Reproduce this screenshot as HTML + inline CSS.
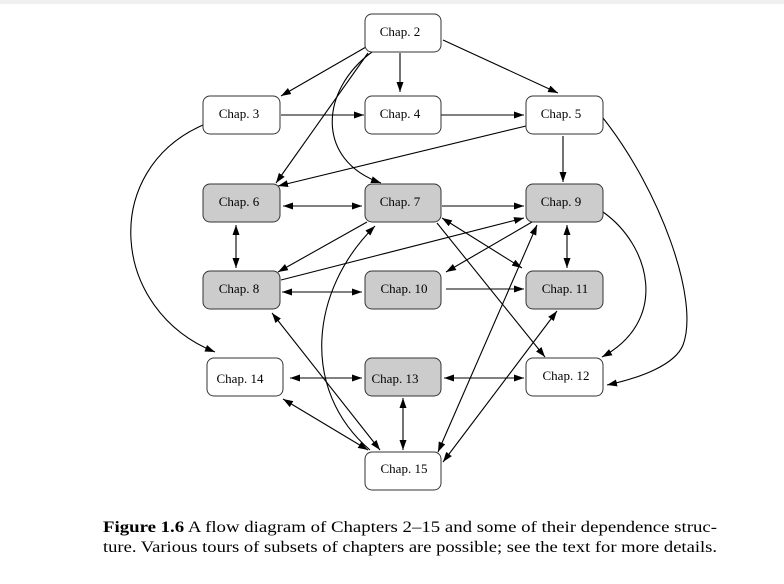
<!DOCTYPE html>
<html><head><style>
html,body{margin:0;padding:0;background:#fff;width:784px;height:584px;overflow:hidden}
</style></head><body>
<svg width="784" height="584" viewBox="0 0 784 584" xmlns="http://www.w3.org/2000/svg" font-family="Liberation Serif, serif">
<defs>
<marker id="a" viewBox="0 0 10 10" refX="10" refY="5" markerWidth="10" markerHeight="10" markerUnits="userSpaceOnUse" orient="auto-start-reverse"><path d="M0,1.5 L10,5 L0,8.5 z" fill="#000"/></marker>
</defs>
<rect x="0" y="0" width="784" height="4" fill="#f0f0f0"/>
<g stroke="#000" stroke-width="1.1" fill="none">
<line x1="366" y1="47" x2="281" y2="96" marker-end="url(#a)"/>
<line x1="400" y1="53" x2="400" y2="92" marker-end="url(#a)"/>
<line x1="443" y1="40" x2="558" y2="93" marker-end="url(#a)"/>
<line x1="368" y1="53" x2="276" y2="183" marker-end="url(#a)"/>
<path d="M372,52 C320,90 315,160 381,183" marker-end="url(#a)"/>
<line x1="281" y1="115" x2="364" y2="115" marker-end="url(#a)"/>
<line x1="441" y1="115" x2="524" y2="115" marker-end="url(#a)"/>
<line x1="526" y1="126" x2="278" y2="186" marker-end="url(#a)"/>
<line x1="563" y1="136" x2="563" y2="182" marker-end="url(#a)"/>
<path d="M603,118 C660,190 700,300 683,345 C675,365 640,378 607,385" marker-end="url(#a)"/>
<path d="M603,212 C650,245 670,320 602,357" marker-end="url(#a)"/>
<path d="M203,125 C100,170 110,310 215,352" marker-end="url(#a)"/>
<line x1="283" y1="206" x2="362" y2="206" marker-start="url(#a)" marker-end="url(#a)"/>
<line x1="442" y1="206" x2="524" y2="206" marker-end="url(#a)"/>
<line x1="236" y1="225" x2="236" y2="268" marker-start="url(#a)" marker-end="url(#a)"/>
<line x1="367" y1="222" x2="278" y2="272" marker-end="url(#a)"/>
<line x1="281" y1="280" x2="524" y2="218" marker-end="url(#a)"/>
<line x1="532" y1="222" x2="446" y2="272" marker-end="url(#a)"/>
<line x1="442" y1="218" x2="522" y2="268" marker-start="url(#a)" marker-end="url(#a)"/>
<line x1="437" y1="223" x2="545" y2="357" marker-end="url(#a)"/>
<line x1="282" y1="292" x2="362" y2="292" marker-start="url(#a)" marker-end="url(#a)"/>
<line x1="446" y1="289" x2="524" y2="289" marker-end="url(#a)"/>
<line x1="567" y1="225" x2="567" y2="268" marker-start="url(#a)" marker-end="url(#a)"/>
<line x1="272" y1="313" x2="380" y2="450" marker-start="url(#a)" marker-end="url(#a)"/>
<path d="M375,226 C310,290 300,390 370,450" marker-start="url(#a)"/>
<line x1="290" y1="378" x2="362" y2="378" marker-start="url(#a)" marker-end="url(#a)"/>
<line x1="444" y1="378" x2="524" y2="378" marker-start="url(#a)" marker-end="url(#a)"/>
<line x1="403" y1="398" x2="403" y2="450" marker-start="url(#a)" marker-end="url(#a)"/>
<line x1="283" y1="399" x2="368" y2="450" marker-start="url(#a)" marker-end="url(#a)"/>
<line x1="537" y1="225" x2="438" y2="452" marker-start="url(#a)" marker-end="url(#a)"/>
<line x1="557" y1="311" x2="443" y2="462" marker-start="url(#a)" marker-end="url(#a)"/>
</g>
<g stroke="#333" stroke-width="1" font-size="13" text-anchor="middle">
<rect x="365" y="14" width="76" height="38" rx="7" fill="#fff"/>
<rect x="203" y="96" width="77" height="38" rx="7" fill="#fff"/>
<rect x="365" y="96" width="76" height="38" rx="7" fill="#fff"/>
<rect x="526" y="96" width="77" height="38" rx="7" fill="#fff"/>
<rect x="203" y="184" width="77" height="38" rx="7" fill="#ccc"/>
<rect x="365" y="184" width="76" height="38" rx="7" fill="#ccc"/>
<rect x="526" y="184" width="77" height="38" rx="7" fill="#ccc"/>
<rect x="203" y="271" width="77" height="38" rx="7" fill="#ccc"/>
<rect x="365" y="271" width="76" height="38" rx="7" fill="#ccc"/>
<rect x="526" y="271" width="77" height="38" rx="7" fill="#ccc"/>
<rect x="207" y="358" width="76" height="38" rx="7" fill="#fff"/>
<rect x="365" y="358" width="76" height="38" rx="7" fill="#ccc"/>
<rect x="526" y="358" width="77" height="38" rx="7" fill="#fff"/>
<rect x="365" y="452" width="76" height="38" rx="7" fill="#fff"/>
</g>
<g font-size="13" fill="#000" text-anchor="middle">
<text x="400" y="36">Chap. 2</text>
<text x="239" y="118">Chap. 3</text>
<text x="400" y="118">Chap. 4</text>
<text x="561" y="118">Chap. 5</text>
<text x="239" y="206">Chap. 6</text>
<text x="400" y="206">Chap. 7</text>
<text x="561" y="206">Chap. 9</text>
<text x="239" y="293">Chap. 8</text>
<text x="404" y="293">Chap. 10</text>
<text x="565" y="293">Chap. 11</text>
<text x="240" y="383">Chap. 14</text>
<text x="395" y="383">Chap. 13</text>
<text x="566" y="380">Chap. 12</text>
<text x="404" y="473">Chap. 15</text>
</g>
<g font-size="16" fill="#000">
<text x="103" y="532" textLength="614" lengthAdjust="spacingAndGlyphs"><tspan font-weight="bold">Figure 1.6</tspan>  A flow diagram of Chapters 2–15 and some of their dependence struc-</text>
<text x="103" y="552" textLength="614" lengthAdjust="spacingAndGlyphs">ture. Various tours of subsets of chapters are possible; see the text for more details.</text>
</g>
</svg>
</body></html>
